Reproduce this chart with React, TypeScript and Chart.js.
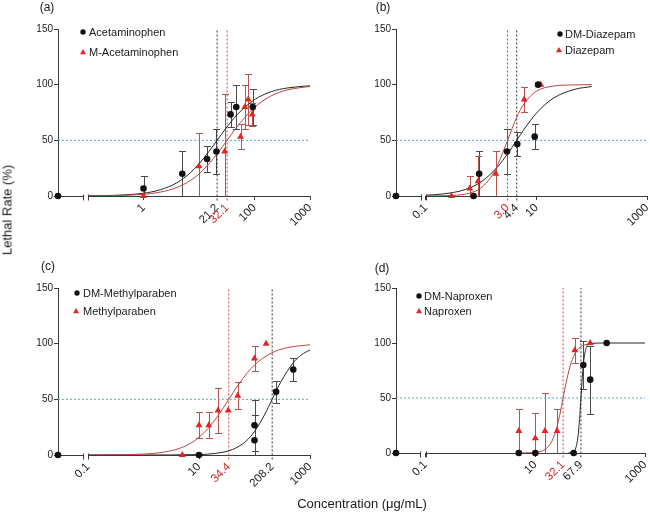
import React, { useEffect, useRef } from 'react';
import { Chart, registerables } from 'chart.js';

Chart.register(...registerables);

const FONT = '"Liberation Sans", Arial, Helvetica, sans-serif';
const AXIS = '#3a3a3a';
const BLACK = '#111111';
const RED = '#e5231f';
const BLACK_FIT = '#262626';
const RED_FIT = '#b8463f';
const BLACK_BAR = '#4a4a4a';
const RED_BAR = '#b9534e';
const BLACK_REF = '#333333';
const RED_REF = '#d6403a';
const BLUE_REF = '#5aa7d6';
const RED_LABEL = '#c62a22';

// x-axis layout values (concentration, µg/mL)
const X_MIN = 0.0288; // left end of the broken axis, where concentration 0 is drawn
const X_BREAK = 0.08; // end of the "0" segment
const X_LOG_START = 0.1;
const X_MAX = 1000;
const Y_TICKS = [0, 50, 100, 150];
const HALF_EFFECT = 50;

// ---------- Panel (a) ----------
const A_BLACK_NAME = 'Acetaminophen';
const A_RED_NAME = 'M-Acetaminophen';
const A_BLACK_X = [0, 1, 5, 14, 20.6, 37, 47, 93];
const A_BLACK_Y = [0, 6.7, 20, 33.3, 40, 73.3, 80, 80];
const A_BLACK_ERR = [0, 11, 20, 11.5, 20, 11.5, 20, 16];
const A_RED_X = [1, 10, 29, 56, 67, 77, 91];
const A_RED_Y = [0, 26.7, 40, 53.3, 80, 86.7, 73.3];
const A_RED_ERR = [0, 30, 52, 11.5, 20, 23, 10];
const A_BLACK_EC50 = 21.2;
const A_RED_EC50 = 32.1;
const A_TICKS = [1, 21.2, 32.1, 100, 1000];
const A_TICK_LABELS = ['1', '21.2', '32.1', '100', '1000'];
const A_TICK_RED = [false, false, true, false, false];
const A_BLACK_FIT_X = [0.1, 0.3, 1, 2, 4, 7, 10, 15, 21.2, 30, 50, 100, 200, 400, 1000];
const A_BLACK_FIT_Y = [0.16, 0.6, 2.5, 5.6, 11.9, 20.9, 28.9, 39.8, 50, 60.3, 73.7, 86.5, 93.7, 97.1, 99.0];
const A_RED_FIT_X = [0.1, 0.3, 1, 2, 4, 7, 10, 15, 22, 32.1, 45, 70, 100, 200, 400, 1000];
const A_RED_FIT_Y = [0.1, 0.37, 1.5, 3.5, 7.6, 13.9, 19.8, 28.6, 38.9, 50, 60, 71.8, 79.6, 90, 95.4, 98.4];

// ---------- Panel (b) ----------
const B_BLACK_NAME = 'DM-Diazepam';
const B_RED_NAME = 'Diazepam';
const B_BLACK_X = [0, 0.73, 0.92, 2.94, 4.5, 9.3, 10.7];
const B_BLACK_Y = [0, 0, 20, 40, 46.7, 53.3, 100];
const B_BLACK_ERR = [0, 0, 20, 20, 11, 11.5, 0];
const B_RED_X = [0.29, 0.62, 0.88, 1.84, 6, 12];
const B_RED_Y = [0, 6.7, 13.3, 20, 86.7, 100];
const B_RED_ERR = [0, 11, 23, 20, 11.5, 0];
const B_BLACK_EC50 = 4.4;
const B_RED_EC50 = 3.0;
const B_TICKS = [0.1, 3.0, 4.4, 10, 1000];
const B_TICK_LABELS = ['0.1', '3.0', '4.4', '10', '1000'];
const B_TICK_RED = [false, true, false, false, false];
const B_BLACK_FIT_X = [0.1, 0.2, 0.5, 1, 2, 3, 4.4, 6, 10, 20, 50, 100];
const B_BLACK_FIT_Y = [0.7, 1.8, 5.6, 12.7, 26.4, 37.8, 50, 60, 74.4, 87.7, 95.9, 98.3];
const B_RED_FIT_X = [0.1, 0.3, 0.6, 1, 1.5, 2, 3, 4.4, 6, 10, 20, 50, 100];
const B_RED_FIT_Y = [0.04, 0.5, 2.4, 7.4, 16.9, 28.2, 50, 70.7, 83.1, 94.1, 98.7, 99.8, 100];

// ---------- Panel (c) ----------
const C_BLACK_NAME = 'DM-Methylparaben';
const C_RED_NAME = 'Methylparaben';
const C_BLACK_X = [0, 10, 100, 100, 245, 500];
const C_BLACK_Y = [0, 0, 26.7, 13.3, 56.7, 76.7];
const C_BLACK_ERR = [0, 0, 23, 23, 10, 10];
const C_RED_X = [5, 10, 15, 22, 33.6, 50, 100, 162];
const C_RED_Y = [0, 26.7, 26.7, 40, 40, 53.3, 86.7, 100];
const C_RED_ERR = [0, 11.5, 11.5, 20, 0, 12, 11.5, 0];
const C_BLACK_EC50 = 208.2;
const C_RED_EC50 = 34.4;
const C_TICKS = [0.1, 10, 34.4, 208.2, 1000];
const C_TICK_LABELS = ['0.1', '10', '34.4', '208.2', '1000'];
const C_TICK_RED = [false, false, true, false, false];
const C_BLACK_FIT_X = [0.1, 1, 10, 20, 40, 70, 100, 150, 208.2, 300, 500, 700, 1000];
const C_BLACK_FIT_Y = [0, 0, 0.4, 1.5, 4.9, 12.3, 21.1, 35.7, 50, 65.9, 82.9, 89.9, 94.4];
const C_RED_FIT_X = [0.1, 0.3, 1, 2, 4, 7, 10, 15, 22, 34.4, 50, 75, 100, 200, 400, 1000];
const C_RED_FIT_Y = [0.04, 0.17, 0.84, 2.1, 5.2, 10.4, 15.9, 24.6, 35.3, 50, 62.4, 74.1, 80.9, 91.5, 96.5, 99.0];

// ---------- Panel (d) ----------
const D_BLACK_NAME = 'DM-Naproxen';
const D_RED_NAME = 'Naproxen';
const D_BLACK_X = [0, 5, 10, 50, 75, 100, 200];
const D_BLACK_Y = [0, 0, 0, 0, 80, 66.7, 100];
const D_BLACK_ERR = [0, 0, 0, 0, 22, 31, 0];
const D_RED_X = [5, 10, 15, 25, 52.5, 100];
const D_RED_Y = [20, 13.3, 20, 20, 93.3, 100];
const D_RED_ERR = [20, 23, 35, 20, 11.5, 0];
const D_BLACK_EC50 = 67.9;
const D_RED_EC50 = 32.1;
const D_TICKS = [0.1, 10, 32.1, 67.9, 1000];
const D_TICK_LABELS = ['0.1', '10', '32.1', '67.9', '1000'];
const D_TICK_RED = [false, false, true, false, false];
const D_BLACK_FIT_X = [40, 50, 55, 60, 64, 67.9, 72, 77, 85, 100, 200, 1000];
const D_BLACK_FIT_Y = [0.06, 1.4, 5, 15, 30.4, 50, 69.4, 85.3, 95.9, 99.6, 100, 100];
const D_RED_FIT_X = [5, 8, 10, 15, 20, 25, 28, 32.1, 37, 45, 55, 70, 100];
const D_RED_FIT_Y = [0, 0.2, 0.5, 3.2, 10.6, 24.5, 35.1, 50, 65.5, 82, 91.9, 97.1, 99.4];

const PANELS: any[] = [
  {
    key: 'a', tag: '(a)', canvasLeft: 0, canvasTop: 0, L: 58, T: 29, R: 310, B: 196,
    tagPos: [47, 7],
    blackName: A_BLACK_NAME, redName: A_RED_NAME,
    bx: A_BLACK_X, by: A_BLACK_Y, be: A_BLACK_ERR,
    rx: A_RED_X, ry: A_RED_Y, re: A_RED_ERR,
    bEc: A_BLACK_EC50, rEc: A_RED_EC50,
    ticks: A_TICKS, labels: A_TICK_LABELS, tickRed: A_TICK_RED,
    bfx: A_BLACK_FIT_X, bfy: A_BLACK_FIT_Y, rfx: A_RED_FIT_X, rfy: A_RED_FIT_Y,
    legend: { dot: [25, 3], tri: [25, 23], text: 31 },
  },
  {
    key: 'b', tag: '(b)', canvasLeft: 338, canvasTop: 0, L: 396, T: 29, R: 647, B: 196,
    tagPos: [383, 7],
    blackName: B_BLACK_NAME, redName: B_RED_NAME,
    bx: B_BLACK_X, by: B_BLACK_Y, be: B_BLACK_ERR,
    rx: B_RED_X, ry: B_RED_Y, re: B_RED_ERR,
    bEc: B_BLACK_EC50, rEc: B_RED_EC50,
    ticks: B_TICKS, labels: B_TICK_LABELS, tickRed: B_TICK_RED,
    bfx: B_BLACK_FIT_X, bfy: B_BLACK_FIT_Y, rfx: B_RED_FIT_X, rfy: B_RED_FIT_Y,
    legend: { dot: [164, 5], tri: [163, 21], text: 169 },
  },
  {
    key: 'c', tag: '(c)', canvasLeft: 0, canvasTop: 259, L: 58, T: 288, R: 310, B: 455,
    tagPos: [48, 266],
    blackName: C_BLACK_NAME, redName: C_RED_NAME,
    bx: C_BLACK_X, by: C_BLACK_Y, be: C_BLACK_ERR,
    rx: C_RED_X, ry: C_RED_Y, re: C_RED_ERR,
    bEc: C_BLACK_EC50, rEc: C_RED_EC50,
    ticks: C_TICKS, labels: C_TICK_LABELS, tickRed: C_TICK_RED,
    bfx: C_BLACK_FIT_X, bfy: C_BLACK_FIT_Y, rfx: C_RED_FIT_X, rfy: C_RED_FIT_Y,
    legend: { dot: [19, 5], tri: [18, 23], text: 25 },
  },
  {
    key: 'd', tag: '(d)', canvasLeft: 338, canvasTop: 259, L: 396, T: 288, R: 645, B: 453,
    tagPos: [382, 268],
    blackName: D_BLACK_NAME, redName: D_RED_NAME,
    bx: D_BLACK_X, by: D_BLACK_Y, be: D_BLACK_ERR,
    rx: D_RED_X, ry: D_RED_Y, re: D_RED_ERR,
    bEc: D_BLACK_EC50, rEc: D_RED_EC50,
    ticks: D_TICKS, labels: D_TICK_LABELS, tickRed: D_TICK_RED,
    bfx: D_BLACK_FIT_X, bfy: D_BLACK_FIT_Y, rfx: D_RED_FIT_X, rfy: D_RED_FIT_Y,
    legend: { dot: [23, 8], tri: [23, 23], text: 28 },
  },
];

const PAD_RIGHT = 30;
const X_AXIS_H = 56;

function pts(xs: number[], ys: number[]) {
  return xs.map((c, i) => ({ x: c === 0 ? X_MIN : c, y: ys[i] }));
}

function drawTriangle(ctx: CanvasRenderingContext2D, x: number, y: number, r: number) {
  ctx.beginPath();
  ctx.moveTo(x, y - r);
  ctx.lineTo(x + r * 0.866, y + r * 0.5);
  ctx.lineTo(x - r * 0.866, y + r * 0.5);
  ctx.closePath();
  ctx.fill();
}

function makeConfig(p: any) {
  const decor = {
    id: 'decor',
    beforeDatasetsDraw(chart: any) {
      const { ctx, chartArea: ca, scales } = chart;
      const x = scales.x;
      const y = scales.y;
      const yb = Math.round(y.getPixelForValue(0)) + 0.5;
      const xb = Math.round(x.getPixelForValue(X_BREAK)) + 0.5;
      const xs = Math.round(x.getPixelForValue(X_LOG_START)) + 0.5;
      ctx.save();
      ctx.lineWidth = 1;
      ctx.strokeStyle = AXIS;
      ctx.beginPath();
      ctx.moveTo(ca.left, yb);
      ctx.lineTo(xb, yb);
      ctx.moveTo(xb, yb - 2);
      ctx.lineTo(xb, yb + 4);
      ctx.moveTo(xs, yb);
      ctx.lineTo(ca.right, yb);
      ctx.moveTo(xs, yb - 2);
      ctx.lineTo(xs, yb + 4);
      ctx.stroke();

      const bars = (cx: number[], vy: number[], ve: number[], color: string) => {
        ctx.strokeStyle = color;
        ctx.lineWidth = 1;
        cx.forEach((c, i) => {
          const e = ve[i];
          if (!e) return;
          const px = Math.round(x.getPixelForValue(c === 0 ? X_MIN : c)) + 0.5;
          const hi = vy[i] + e;
          const lo = Math.max(0, vy[i] - e);
          const pHi = Math.round(y.getPixelForValue(hi)) + 0.5;
          const pLo = Math.round(y.getPixelForValue(lo)) + 0.5;
          ctx.beginPath();
          ctx.moveTo(px, pHi);
          ctx.lineTo(px, pLo);
          ctx.moveTo(px - 3.5, pHi);
          ctx.lineTo(px + 3.5, pHi);
          if (lo > 0) {
            ctx.moveTo(px - 3.5, pLo);
            ctx.lineTo(px + 3.5, pLo);
          }
          ctx.stroke();
        });
      };
      bars(p.bx, p.by, p.be, BLACK_BAR);
      bars(p.rx, p.ry, p.re, RED_BAR);
      ctx.restore();
    },
    afterDatasetsDraw(chart: any) {
      const { ctx, chartArea: ca } = chart;
      const lg = p.legend;
      ctx.save();
      ctx.fillStyle = BLACK;
      ctx.beginPath();
      ctx.arc(ca.left + lg.dot[0], ca.top + lg.dot[1], 2.7, 0, Math.PI * 2);
      ctx.fill();
      ctx.fillStyle = RED;
      drawTriangle(ctx, ca.left + lg.tri[0], ca.top + lg.tri[1] + 0.5, 3.4);
      ctx.fillStyle = '#1a1a1a';
      ctx.font = `11px ${FONT}`;
      ctx.textAlign = 'left';
      ctx.textBaseline = 'middle';
      ctx.fillText(p.blackName, ca.left + lg.text, ca.top + lg.dot[1] + 0.5);
      ctx.fillText(p.redName, ca.left + lg.text, ca.top + lg.tri[1] + 0.5);
      ctx.restore();
    },
  };

  const yW = p.L - p.canvasLeft;
  const padTop = p.T - p.canvasTop;

  return {
    type: 'scatter',
    data: {
      datasets: [
        {
          label: p.blackName, data: pts(p.bx, p.by), showLine: false,
          pointStyle: 'circle', pointRadius: 3.3, pointBackgroundColor: BLACK,
          pointBorderColor: BLACK, pointBorderWidth: 0, clip: false, order: 0,
        },
        {
          label: p.redName, data: pts(p.rx, p.ry), showLine: false,
          pointStyle: 'triangle', pointRadius: 4, pointBackgroundColor: RED,
          pointBorderColor: RED, pointBorderWidth: 0, clip: false, order: 1,
        },
        {
          label: 'fit-black', data: pts(p.bfx, p.bfy), showLine: true, pointRadius: 0,
          borderColor: BLACK_FIT, borderWidth: 1, cubicInterpolationMode: 'monotone', order: 3,
        },
        {
          label: 'fit-red', data: pts(p.rfx, p.rfy), showLine: true, pointRadius: 0,
          borderColor: RED_FIT, borderWidth: 1, cubicInterpolationMode: 'monotone', order: 2,
        },
        {
          label: 'ec50-black', data: [{ x: p.bEc, y: -4 }, { x: p.bEc, y: 150 }], showLine: true,
          pointRadius: 0, borderColor: BLACK_REF, borderWidth: 1, borderDash: [2, 2], clip: false, order: 4,
        },
        {
          label: 'ec50-red', data: [{ x: p.rEc, y: -4 }, { x: p.rEc, y: 150 }], showLine: true,
          pointRadius: 0, borderColor: RED_REF, borderWidth: 1, borderDash: [2, 2], clip: false, order: 5,
        },
        {
          label: 'half', data: [{ x: X_MIN, y: HALF_EFFECT }, { x: X_MAX, y: HALF_EFFECT }], showLine: true,
          pointRadius: 0, borderColor: BLUE_REF, borderWidth: 1, borderDash: [2, 2], order: 6,
        },
      ],
    },
    options: {
      responsive: false,
      animation: false,
      events: [],
      layout: { padding: { top: padTop, right: PAD_RIGHT, left: 0, bottom: 0 } },
      plugins: { legend: { display: false }, tooltip: { enabled: false }, title: { display: false } },
      scales: {
        x: {
          type: 'logarithmic',
          min: X_MIN,
          max: X_MAX,
          afterBuildTicks: (s: any) => { s.ticks = p.ticks.map((v: number) => ({ value: v })); },
          afterFit: (s: any) => { s.height = X_AXIS_H; },
          border: { display: false },
          grid: {
            display: true, drawOnChartArea: false, drawTicks: true, tickLength: 4,
            tickColor: (c: any) => (p.ticks[c.index] === p.bEc || p.ticks[c.index] === p.rEc ? 'rgba(0,0,0,0)' : AXIS),
          },
          ticks: {
            autoSkip: false, minRotation: 45, maxRotation: 45, padding: 1,
            font: { family: FONT, size: 11.5 },
            color: (c: any) => (p.tickRed[c.index] ? RED_LABEL : '#1a1a1a'),
            callback: (_v: any, i: number) => p.labels[i],
          },
        },
        y: {
          min: 0,
          max: 150,
          afterBuildTicks: (s: any) => { s.ticks = Y_TICKS.map((v) => ({ value: v })); },
          afterFit: (s: any) => { s.width = yW; },
          border: { display: true, color: AXIS, width: 1 },
          grid: { display: true, drawOnChartArea: false, drawTicks: true, tickLength: 4, tickColor: AXIS },
          ticks: { padding: 1, font: { family: FONT, size: 10 }, color: '#1a1a1a' },
        },
      },
    },
    plugins: [decor],
  };
}

function PanelChart({ p }: { p: any }) {
  const ref = useRef<HTMLCanvasElement>(null);
  const w = p.R + PAD_RIGHT - p.canvasLeft;
  const h = p.B + X_AXIS_H - p.canvasTop;
  useEffect(() => {
    if (!ref.current) return;
    const chart = new Chart(ref.current, makeConfig(p) as any);
    return () => chart.destroy();
  }, [p]);
  return (
    <canvas
      ref={ref}
      width={w}
      height={h}
      style={{ position: 'absolute', left: p.canvasLeft, top: p.canvasTop, width: w, height: h }}
    />
  );
}

const textBase: any = {
  position: 'absolute',
  fontFamily: FONT,
  color: '#1a1a1a',
  whiteSpace: 'nowrap',
  transform: 'translate(-50%, -50%)',
  lineHeight: 1,
};

export default function App() {
  return (
    <div style={{ position: 'absolute', left: 0, top: 0, width: 650, height: 512, overflow: 'hidden', background: '#fff' }}>
      {PANELS.map((p) => (
        <PanelChart key={p.key} p={p} />
      ))}
      {PANELS.map((p) => (
        <div key={'t' + p.key} style={{ ...textBase, left: p.tagPos[0], top: p.tagPos[1], fontSize: 12 }}>{p.tag}</div>
      ))}
      <div style={{ ...textBase, left: 7, top: 210, fontSize: 13, transform: 'translate(-50%, -50%) rotate(-90deg)' }}>
        Lethal Rate (%)
      </div>
      <div style={{ ...textBase, left: 362, top: 503, fontSize: 13 }}>Concentration (μg/mL)</div>
    </div>
  );
}
